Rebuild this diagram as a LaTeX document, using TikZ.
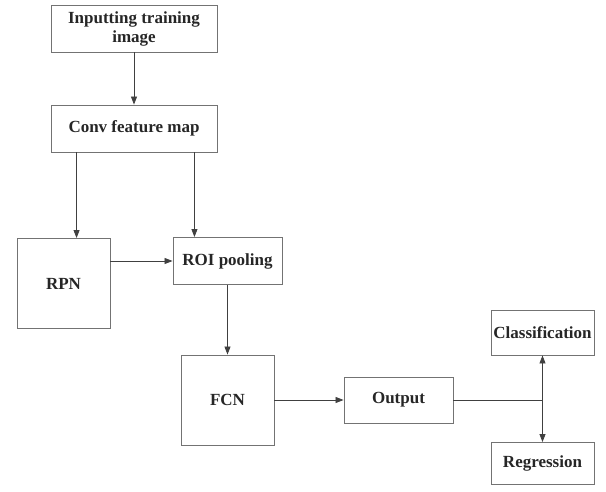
\documentclass[tikz,border=0pt]{standalone}
\usepackage{fontspec}
\setmainfont{Liberation Serif}
\usetikzlibrary{arrows.meta,calc}
\begin{document}
\begin{tikzpicture}[x=1pt,y=-1pt,
  box/.style={draw=black!55, line width=0.9pt, inner sep=0pt, align=center,
    font=\fontsize{17}{19}\selectfont\bfseries, text=black!85},
  arr/.style={draw=black!75, line width=0.8pt, -{Triangle[length=8pt,width=6pt]}},
  ln/.style={draw=black!75, line width=0.8pt}]
\useasboundingbox (0,0) rectangle (606,492);
\node[box, minimum width=166pt, minimum height=47pt] (inp) at (134,28.5) {Inputting training\\image};
\node[box, minimum width=166pt, minimum height=47pt] (conv) at (134,128.5) {Conv feature map};
\node[box, minimum width=93pt, minimum height=90pt] (rpn) at (63.5,283.5) {RPN};
\node[box, minimum width=109pt, minimum height=47pt] (roi) at (227.5,261) {ROI pooling};
\node[box, minimum width=93pt, minimum height=90pt] (fcn) at (227.5,400) {FCN};
\node[box, minimum width=109pt, minimum height=46pt] (out) at (398.5,400) {Output};
\node[box, minimum width=103pt, minimum height=45pt] (cls) at (542.5,332.5) {Classification};
\node[box, minimum width=103pt, minimum height=42pt] (reg) at (542.5,463.5) {Regression};
\coordinate (j) at (out.east -| cls.south);
\draw[arr] (inp.south) -- (conv.north);
\draw[arr] ([xshift=26pt]conv.south west) -- ([xshift=26pt]conv.south west |- rpn.north);
\draw[arr] ([xshift=-23pt]conv.south east) -- ([xshift=-23pt]conv.south east |- roi.north);
\draw[arr] (roi.west -| rpn.east) -- (roi.west);
\draw[arr] (roi.south) -- (fcn.north);
\draw[arr] (fcn.east) -- (out.west);
\draw[ln] (out.east) -- (j);
\draw[arr] (j) -- (cls.south);
\draw[arr] (j) -- (reg.north);
\end{tikzpicture}
\end{document}
